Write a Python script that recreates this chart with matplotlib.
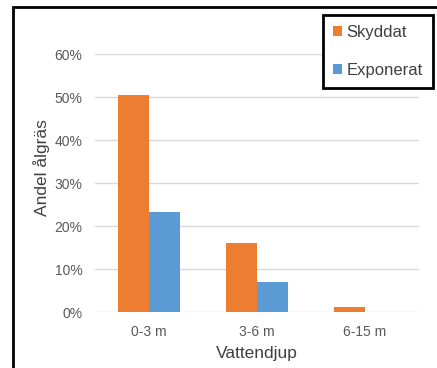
import matplotlib.pyplot as plt
import matplotlib.patches as mpatches
import numpy as np

plt.rcParams['font.family'] = ['Liberation Sans', 'DejaVu Sans']

depths = ["0-3 m", "3-6 m", "6-15 m"]
skyddat = [50.5, 16.2, 1.2]
exponerat = [23.4, 7.0, 0.0]
series_names = ["Skyddat", "Exponerat"]
colors = ["#ED7D31", "#5B9BD5"]

fig = plt.figure(figsize=(4.37, 3.68), dpi=100)
ax = fig.add_axes([0.217, 0.151, 0.742, 0.701])

x = np.arange(len(depths))
w = 0.29
b1 = ax.bar(x - w / 2, skyddat, w, color=colors[0], zorder=3)
b2 = ax.bar(x + w / 2, exponerat, w, color=colors[1], zorder=3)

ax.set_xlim(-0.5, 2.5)
ax.set_ylim(0, 60)
ax.set_yticks(np.arange(0, 61, 10))
ax.set_yticklabels([f"{v}%" for v in range(0, 61, 10)])
ax.set_xticks(x)
ax.set_xticklabels(depths)
ax.tick_params(length=0, labelsize=10, labelcolor="#595959")
ax.tick_params(axis="y", pad=9)
ax.tick_params(axis="x", pad=9)
ax.yaxis.grid(True, color="#d9d9d9", linewidth=1, zorder=0)
for s in ax.spines.values():
    s.set_visible(False)

ax.set_xlabel("Vattendjup", fontsize=12.5, color="#404040", labelpad=5)
ax.set_ylabel("Andel ålgräs", fontsize=12.5, color="#404040", labelpad=3, y=0.56)

leg = fig.legend([b1, b2], series_names, loc="upper left",
                 bbox_to_anchor=(323 / 437, 1 - 15 / 368), borderaxespad=0,
                 fontsize=12, handlelength=0.55, handleheight=0.55,
                 handletextpad=0.25, labelspacing=1.35, borderpad=0.6,
                 fancybox=False, framealpha=1)
leg.get_frame().set_edgecolor("black")
leg.get_frame().set_linewidth(2)
for t in leg.get_texts():
    t.set_color("#404040")

# outer border around the chart
fig.patches.append(mpatches.Rectangle((13 / 437, -0.1), 1.0, 1.1 - 7 / 368,
                                      transform=fig.transFigure, fill=False,
                                      edgecolor="black", linewidth=2))

fig.savefig("out.png", dpi=100)
